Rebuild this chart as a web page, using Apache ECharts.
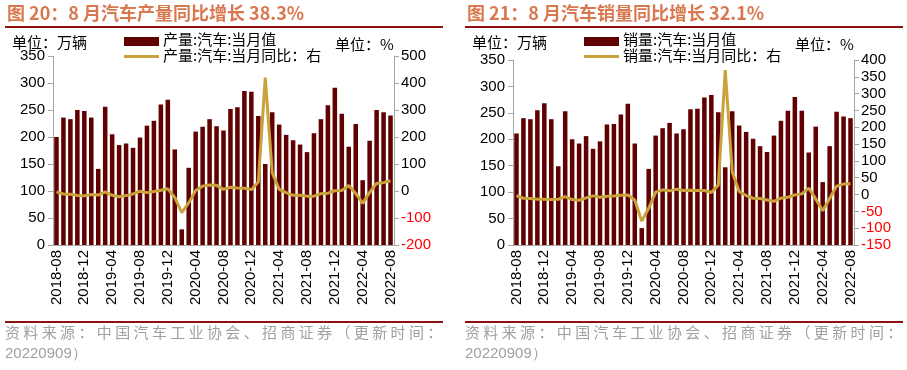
<!DOCTYPE html>
<html><head><meta charset="utf-8">
<script src="https://cdn.jsdelivr.net/npm/echarts@6/dist/echarts.min.js"></script>
<style>html,body{margin:0;padding:0;background:#fff}#c{width:907px;height:370px}</style>
</head><body><div id="c"></div>
<script>
var months = ['2018-08','2018-09','2018-10','2018-11','2018-12','2019-01','2019-02','2019-03','2019-04','2019-05','2019-06','2019-07','2019-08','2019-09','2019-10','2019-11','2019-12','2020-01','2020-02','2020-03','2020-04','2020-05','2020-06','2020-07','2020-08','2020-09','2020-10','2020-11','2020-12','2021-01','2021-02','2021-03','2021-04','2021-05','2021-06','2021-07','2021-08','2021-09','2021-10','2021-11','2021-12','2022-01','2022-02','2022-03','2022-04','2022-05','2022-06','2022-07','2022-08'];
var prodValue = [200,236,233,250,248,236,141,256,205,185,188,180,199,221,230,260,269,177,29,143,210,219,233,220,212,252,255,285,284,239,150,246,223,204,194,186,172,207,233,259,291,243,182,224,120,193,250,246,240];
var prodYoY = [-3,-11,-12,-17,-18,-13,-15,-3,-16,-21,-17,-11,-1,-6,-2,3,8,-24,-80,-44,2,18,22,21,6,14,11,10,5,33,420,68,6,-6,-16,-16,-19,-19,-10,-8,1,2,20,-9,-46,-5,28,31,38];
var salesValue = [211,240,238,255,268,238,149,253,200,192,206,182,196,228,229,247,267,192,32,144,207,221,231,211,219,257,258,279,284,251,147,253,226,214,201,187,176,207,235,254,280,254,175,224,119,187,252,243,240];
var salesYoY = [-3,-11,-12,-14,-14,-15,-14,-6,-15,-17,-10,-4,-8,-5,-4,-2,-1,-16,-79,-41,7,14,11,16,12,13,12,12,6,28,370,68,9,-3,-11,-12,-16,-20,-11,-8,-1,2,19,-13,-48,-12,25,31,32];
var prodRightRange = [-200,500,100];
var salesRightRange = [-150,400,50];
var prodNames = ['产量:汽车:当月值','产量:汽车:当月同比：右'];
var salesNames = ['销量:汽车:当月值','销量:汽车:当月同比：右'];

var cjk = '"Noto Sans CJK SC", sans-serif';
var num = '"Liberation Sans", Arial, sans-serif';
var BAR = '#600000', GOLD = '#C9A23A', AX = '#A6A6A6';
function spaced(s){return s.split('').join(' ');}

var chart = echarts.init(document.getElementById('c'));
function xAx(gi){return {type:'category',gridIndex:gi,data:months,boundaryGap:true,
  axisLine:{lineStyle:{color:AX,width:1}},
  axisTick:{interval:3,alignWithLabel:true,length:4,lineStyle:{color:AX}},
  axisLabel:{interval:3,rotate:90,fontSize:15,color:'#000',fontFamily:num,margin:5}};}
function yLeft(gi){return {type:'value',gridIndex:gi,min:0,max:350,interval:50,position:'left',
  splitLine:{show:false},axisLine:{show:true,lineStyle:{color:AX}},
  axisTick:{show:true,length:5,lineStyle:{color:AX}},
  axisLabel:{fontSize:15,color:'#000',fontFamily:num,margin:8}};}
function yRight(gi,r){return {type:'value',gridIndex:gi,min:r[0],max:r[1],interval:r[2],position:'right',
  splitLine:{show:false},axisLine:{show:true,lineStyle:{color:AX}},
  axisTick:{show:true,length:5,lineStyle:{color:AX}},
  axisLabel:{fontSize:15,fontFamily:num,margin:7,color:function(v){return v<0?'#FF0000':'#000';}}};}

var footer1 = spaced('资料来源：中国汽车工业协会、招商证券（更新时间：');
var footer2 = '20220909）';
function panelGraphics(x0, title, names){
  return [
    {type:'text',left:x0+7,top:4,style:{text:title,fontSize:18,fontWeight:'bold',fill:'#D9784F',fontFamily:cjk}},
    {type:'rect',shape:{x:x0+5,y:26,width:438,height:2},style:{fill:'#8E1010'}},
    {type:'text',left:x0+12,top:35,style:{text:'单位：万辆',fontSize:15,fill:'#000',fontFamily:cjk}},
    {type:'text',left:x0+335,top:37,style:{text:'单位：%',fontSize:15,fill:'#000',fontFamily:cjk}},
    {type:'rect',shape:{x:x0+124,y:37,width:35,height:9},style:{fill:BAR}},
    {type:'text',left:x0+163,top:32,style:{text:names[0],fontSize:15,fill:'#000',fontFamily:cjk}},
    {type:'rect',shape:{x:x0+124,y:55,width:35,height:3},style:{fill:GOLD}},
    {type:'text',left:x0+163,top:48,style:{text:names[1],fontSize:15,fill:'#000',fontFamily:cjk}},
    {type:'rect',shape:{x:x0+5,y:321,width:438,height:2},style:{fill:'#8E1010'}},
    {type:'text',left:x0+5,top:325,style:{text:footer1,fontSize:15,fill:'#A0A0A0',fontFamily:cjk}},
    {type:'text',left:x0+5,top:346,style:{text:footer2,fontSize:15,fill:'#A0A0A0',fontFamily:num}}
  ];
}

chart.setOption({
  animation:false,
  textStyle:{fontFamily:cjk},
  grid:[{left:53,right:513,top:56,bottom:125},{left:513,right:53,top:60,bottom:125}],
  xAxis:[xAx(0),xAx(1)],
  yAxis:[yLeft(0),yRight(0,prodRightRange),yLeft(1),yRight(1,salesRightRange)],
  graphic:panelGraphics(0,'图 20：8 月汽车产量同比增长 38.3%',prodNames).concat(panelGraphics(460,'图 21：8 月汽车销量同比增长 32.1%',salesNames)),
  series:[
    {name:prodNames[0],type:'bar',xAxisIndex:0,yAxisIndex:0,data:prodValue,barWidth:'65%',itemStyle:{color:BAR}},
    {name:prodNames[1],type:'line',xAxisIndex:0,yAxisIndex:1,data:prodYoY,symbol:'none',lineStyle:{color:GOLD,width:3},itemStyle:{color:GOLD}},
    {name:salesNames[0],type:'bar',xAxisIndex:1,yAxisIndex:2,data:salesValue,barWidth:'65%',itemStyle:{color:BAR}},
    {name:salesNames[1],type:'line',xAxisIndex:1,yAxisIndex:3,data:salesYoY,symbol:'none',lineStyle:{color:GOLD,width:3},itemStyle:{color:GOLD}}
  ]
});
</script></body></html>
